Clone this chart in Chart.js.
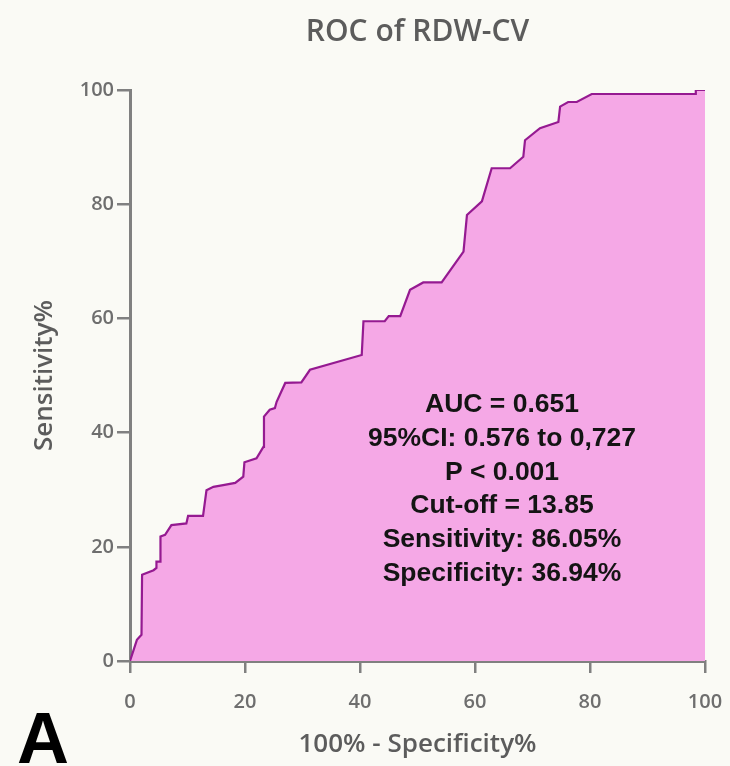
<!DOCTYPE html>
<html>
<head>
<meta charset="utf-8">
<script src="https://cdn.jsdelivr.net/npm/chart.js@4"></script>
<style>
  html, body { margin: 0; padding: 0; background: #fafaf5; }
  canvas { display: block; }
</style>
</head>
<body>
<canvas id="roc" width="730" height="766"></canvas>
<script>
// ROC curve points (100% - specificity, sensitivity)
const fpr = [0, 1.2, 2.0, 2.1, 4.1, 4.6, 4.6, 5.3, 5.3, 6.1,
             7.2, 9.8, 10.1, 12.7, 13.3, 14.5, 16.2, 18.3, 19.7, 19.9,
             22.0, 23.2, 23.3, 24.3, 25.2, 25.5, 27.0, 29.8, 31.3, 40.3,
             40.6, 44.3, 45.0, 47.0, 48.7, 51.0, 54.2, 58.0, 58.6, 61.2,
             62.9, 66.1, 68.4, 68.7, 71.3, 74.5, 74.8, 76.2, 77.7, 80.3,
             98.3, 98.4, 100];
const tpr = [0, 3.7, 4.6, 15.1, 15.9, 16.3, 17.4, 17.4, 21.8, 22.1,
             23.8, 24.1, 25.4, 25.4, 29.9, 30.5, 30.8, 31.2, 32.3, 34.8,
             35.5, 37.5, 42.8, 44.0, 44.3, 45.4, 48.7, 48.8, 51.0, 53.6,
             59.5, 59.5, 60.4, 60.4, 65.0, 66.3, 66.3, 71.7, 78.1, 80.5,
             86.3, 86.3, 88.3, 91.2, 93.3, 94.4, 97.1, 97.9, 97.9, 99.3,
             99.3, 100, 100];

const tickValues = [0, 20, 40, 60, 80, 100];
const statsLines = ['AUC = 0.651', '95%CI: 0.576 to 0,727', 'P < 0.001',
                    'Cut-off = 13.85', 'Sensitivity: 86.05%', 'Specificity: 36.94%'];

const points = fpr.map((x, i) => ({ x: x, y: tpr[i] }));
const axisGray = '#808080';
const textGray = '#6e6e6e';

// keep the plot box where the reference has it, whatever the label sizes
function noEdgePadding(s) {
  s.paddingLeft = 0; s.paddingRight = 0;
  s.paddingTop = 0; s.paddingBottom = 0;
}

const extras = {
  id: 'extras',
  beforeDraw(chart) {
    const c = chart.ctx;
    c.save();
    c.fillStyle = '#fafaf5';
    c.fillRect(0, 0, chart.width, chart.height);
    c.restore();
  },
  afterDraw(chart) {
    const c = chart.ctx;
    const area = chart.chartArea;
    c.save();
    c.textAlign = 'center';
    // title
    c.textBaseline = 'middle';
    c.fillStyle = '#5c5c5c';
    c.font = '600 30px "Open Sans"';
    c.fillText('ROC of RDW-CV', (area.left + area.right) / 2, 32);
    // stats text
    c.textBaseline = 'alphabetic';
    c.fillStyle = '#141414';
    c.font = 'bold 26.5px "Liberation Sans"';
    statsLines.forEach((t, i) => c.fillText(t, 502, 412 + i * 33.8));
    // panel letter
    c.fillStyle = '#000';
    c.font = 'bold 72px "Liberation Sans"';
    c.fillText('A', 43, 763);
    c.restore();
  }
};

new Chart(document.getElementById('roc'), {
  type: 'line',
  data: {
    datasets: [{
      data: points,
      borderColor: '#951a91',
      borderWidth: 2.2,
      backgroundColor: '#f5a8e6',
      fill: 'origin',
      pointRadius: 0,
      tension: 0
    }]
  },
  options: {
    responsive: false,
    animation: false,
    layout: { padding: { top: 90, right: 25, left: 0, bottom: 0 } },
    plugins: { legend: { display: false }, tooltip: { enabled: false } },
    scales: {
      x: {
        type: 'linear', min: 0, max: 100,
        afterBuildTicks: s => { s.ticks = tickValues.map(v => ({ value: v })); },
        afterFit: s => { s.height = 105; noEdgePadding(s); },
        border: { display: true, color: axisGray, width: 3 },
        grid: { drawOnChartArea: false, drawTicks: true, tickLength: 12, color: axisGray, lineWidth: 2.5 },
        ticks: { color: textGray, font: { family: 'Open Sans', size: 20, weight: '600' }, padding: 17, maxRotation: 0 },
        title: { display: true, text: '100% - Specificity%', color: '#5c5c5c',
                 font: { family: 'Open Sans', size: 26, weight: '600' }, padding: { top: 0, bottom: 6 } }
      },
      y: {
        type: 'linear', min: 0, max: 100,
        afterBuildTicks: s => { s.ticks = tickValues.map(v => ({ value: v })); },
        afterFit: s => { s.width = 130; noEdgePadding(s); },
        border: { display: true, color: axisGray, width: 3 },
        grid: { drawOnChartArea: false, drawTicks: true, tickLength: 13, color: axisGray, lineWidth: 2.5 },
        ticks: { color: textGray, font: { family: 'Open Sans', size: 20, weight: '600' }, padding: 3 },
        title: { display: true, text: 'Sensitivity%', color: '#5c5c5c',
                 font: { family: 'Open Sans', size: 26, weight: '600' }, padding: { top: 29, bottom: 0 } }
      }
    }
  },
  plugins: [extras]
});
</script>
</body>
</html>
